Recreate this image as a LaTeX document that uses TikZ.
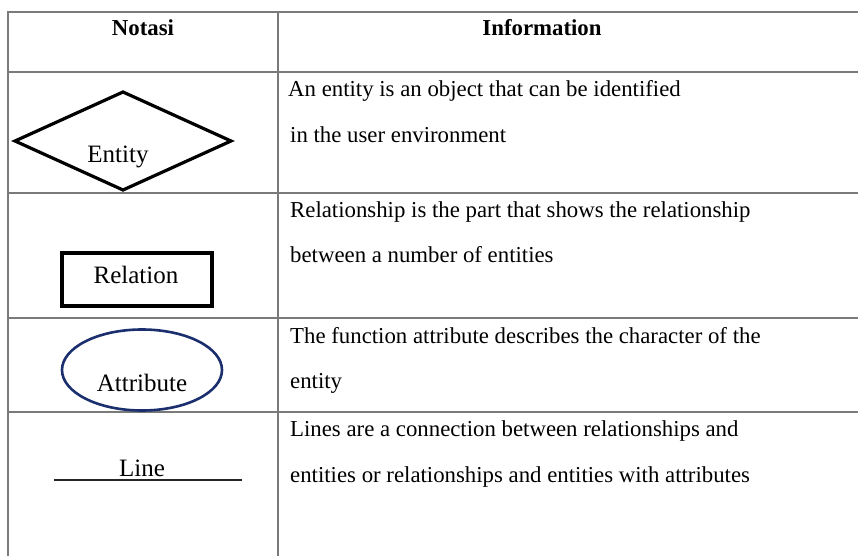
\documentclass[tikz,border=0pt]{standalone}
\usepackage{fontspec}
\setmainfont{Liberation Serif}
\definecolor{gridgray}{HTML}{7A7A7A}
\definecolor{navy}{HTML}{1B2F6E}
\tikzset{
  grid/.style={draw=gridgray, line width=1.5pt},
  desc/.style={anchor=base west, inner sep=0pt, font=\fontsize{22.8}{26}\selectfont},
  head/.style={anchor=base, inner sep=0pt, font=\fontsize{22.8}{26}\selectfont\bfseries},
  lab/.style={anchor=base, inner sep=0pt, font=\fontsize{25}{28}\selectfont},
  thick shape/.style={draw=black, line width=3.2pt},
}
\begin{document}
\begin{tikzpicture}[x=1pt,y=-1pt]
\useasboundingbox (0,0) rectangle (858,556);
\fill[white] (0,0) rectangle (858,556);
% grid
\draw[grid] (858,12) -- (8,12) -- (8,556);
\draw[grid] (278,12) -- (278,556);
\foreach \yy in {72,193,318,412} \draw[grid] (8,\yy) -- (858,\yy);
% header
\node[head] (h1) at (143,36) {Notasi};
\node[head] (h2) at (542,36) {Information};
% entity
\draw[thick shape, line join=miter] (15,141) -- (123,92) -- (231,141) -- (123,190) -- cycle;
\node[lab] (ent) at (118,163) {Entity};
% relation
\draw[thick shape] (62,253) rectangle (212,306);
\node[lab] (rel) at (136,283) {Relation};
% attribute
\draw[navy, line width=2.6pt] (142,370) ellipse [x radius=80, y radius=40.5];
\node[lab] (att) at (142,391) {Attribute};
% line
\coordinate (la) at (54,480);
\coordinate (lb) at (242,480);
\draw[black!85, line width=1.6pt] (la) -- (lb);
\node[lab] (lin) at (142,476) {Line};
% descriptions
\node[desc] (d1a) at (288,97) {An entity is an object that can be identified};
\node[desc] (d1b) at (290,143) {in the user environment};
\node[desc] (d2a) at (290,217) {Relationship is the part that shows the relationship};
\node[desc] (d2b) at (290,262) {between a number of entities};
\node[desc] (d3a) at (290,343) {The function attribute describes the character of the};
\node[desc] (d3b) at (290,388) {entity};
\node[desc] (d4a) at (290,436) {Lines are a connection between relationships and};
\node[desc] (d4b) at (290,482) {entities or relationships and entities with attributes};
\end{tikzpicture}
\end{document}
